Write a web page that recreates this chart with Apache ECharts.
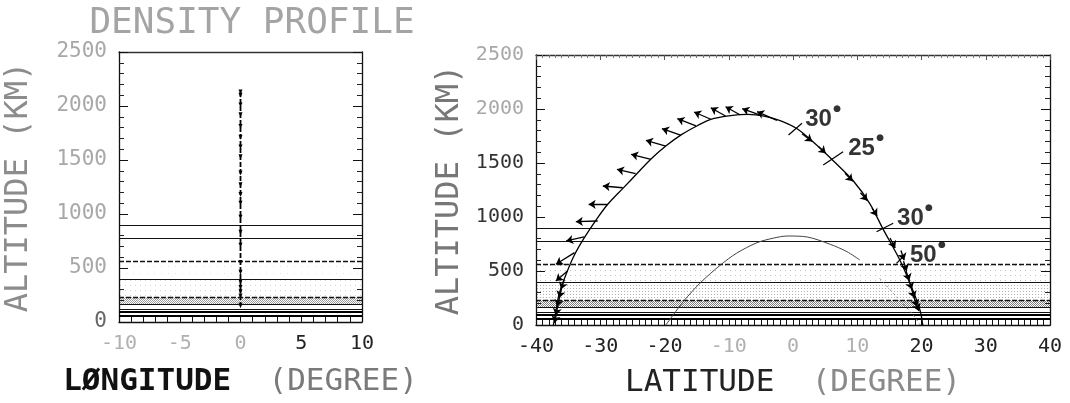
<!DOCTYPE html>
<html>
<head>
<meta charset="utf-8">
<script src="https://cdn.jsdelivr.net/npm/echarts@6/dist/echarts.min.js"></script>
<style>
  html, body { margin: 0; padding: 0; background: #fff; }
  #chart { width: 1070px; height: 403px; }
</style>
</head>
<body>
<div id="chart"></div>
<script>
// ---- data ----------------------------------------------------------------
// layer boundaries (km), drawn across both panels
const layerAlt = [898, 778, 565, 394, 232, 160, 118, 92, 62];
// stippled bands (km): lower and upper bounds
const bandLow = [394, 232, 160];
const bandHigh = [565, 394, 232];

// left panel: density profile track at longitude 0
const profileLon = 0;
const profileAlt = [2130, 2100, 2010, 1920, 1810, 1710, 1620, 1530, 1380, 1270, 1180,
                    1100, 970, 830, 710, 550, 460, 370, 320, 280, 240, 150];

// right panel: main pass (latitude, altitude km)
const orbitLat = [-37.3, -36.9, -36.4, -35.3, -34.1, -32.5, -30.5, -28.8, -26.4, -24.2, -22.1,
                  -19.8, -17.3, -14.9, -12.8, -10.0, -7.0, -4.5, -2.0, 0.7, 3.8, 6.3, 9.4,
                  12.0, 14.0, 16.7, 18.7, 19.8, 20.2];
const orbitAlt = [0, 130, 287, 472, 639, 806, 985, 1120, 1270, 1407, 1537,
                  1657, 1765, 1845, 1905, 1937, 1950, 1935, 1893, 1815, 1660, 1519, 1333,
                  1120, 890, 593, 315, 130, 0];

// right panel: lower pass
const innerLat = [-19.8, -17.0, -14.4, -11.3, -8.8, -5.6, -3.0, -0.9, 2.2, 5.8, 8.4, 10.4];
const innerAlt = [0, 222, 392, 555, 664, 762, 805, 824, 815, 747, 679, 602];
const innerTailLat = [13.5, 16.1, 18.7, 19.8];
const innerTailAlt = [432, 262, 93, 0];

// vectors along the main pass: tail and head (latitude, altitude km)
const vecTail = [
  [-35.1, 500], [-34.0, 670], [-32.5, 815], [-30.4, 963], [-28.9, 1117], [-26.5, 1271],
  [-24.5, 1401], [-22.1, 1534], [-19.8, 1657], [-17.5, 1759], [-15.1, 1843], [-12.8, 1905],
  [-10.5, 1935], [-8.2, 1944], [-5.0, 1940], [-2.5, 1895],
  [1.4, 1770], [4.0, 1650], [8.1, 1405], [10.5, 1225], [12.3, 1083], [15.1, 806],
  [16.8, 690], [17.2, 590], [17.6, 500], [18.0, 420], [18.4, 340], [18.8, 260], [19.1, 200],
  [-35.6, 420], [-36.0, 340], [-36.3, 260], [-36.6, 180], [-36.8, 110]
];
const vecHead = [
  [-36.9, 407], [-36.9, 562], [-35.3, 778], [-33.8, 957], [-31.8, 1117], [-29.6, 1287],
  [-27.4, 1441], [-25.2, 1580], [-22.9, 1710], [-20.4, 1818], [-18.0, 1910], [-15.4, 1972],
  [-12.8, 2012], [-10.5, 2021], [-7.9, 2003], [-5.6, 1975],
  [3.0, 1700], [5.1, 1590], [9.3, 1330], [11.6, 1150], [13.1, 1009], [15.9, 713],
  [17.3, 600], [17.7, 500], [18.1, 410], [18.5, 330], [18.9, 250], [19.3, 170], [19.6, 130],
  [-36.1, 330], [-36.4, 250], [-36.7, 170], [-36.9, 90], [-37.1, 20]
];

// angle marks crossing the main pass
const crossFrom = [[-0.7, 1759], [4.7, 1481], [13.0, 864], [16.1, 571]];
const crossTo = [[1.4, 1868], [7.8, 1605], [15.6, 942], [17.4, 648]];
const angleLat = [1.9, 8.6, 16.2, 18.2];
const angleAlt = [1907, 1639, 991, 648];
const angleVal = [30, 25, 30, 50];

// ---- styles ----------------------------------------------------------------
const MONO = "'DejaVu Sans Mono', 'Liberation Mono', monospace";
const NARROW = "'Liberation Sans Narrow', 'Liberation Sans', sans-serif";

function dotPattern(step, alpha, checker) {
  const c = document.createElement('canvas');
  c.width = c.height = step;
  const g = c.getContext('2d');
  g.fillStyle = 'rgba(0,0,0,' + alpha + ')';
  g.fillRect(0, 0, 1, 1);
  if (checker) g.fillRect(1, 1, 1, 1);
  return { image: c, repeat: 'repeat' };
}
const bandFillRight = [dotPattern(5, 0.25), dotPattern(3, 0.3), dotPattern(2, 0.5, true)];
const bandFillLeft = [dotPattern(7, 0.10), dotPattern(5, 0.16), dotPattern(2, 0.38, true)];

function layerStyle(i) {
  if (i === 7 || i === 8) return { color: '#000', width: 2, opacity: 1 };
  if (i === 2 || i === 4) return { color: '#111', width: 1.3, type: [5, 2], opacity: 1 };
  return { color: '#111', width: 1.2, opacity: 1 };
}

function labelRich(dark, faint, size) {
  return {
    d: { color: dark, fontFamily: MONO, fontSize: size },
    f: { color: faint, fontFamily: MONO, fontSize: size }
  };
}

const axisLineStyle = { onZero: false, lineStyle: { color: '#111', width: 1.3 } };

function yAxisCfg(grid, pos, showLabels, faintSet, labelColor, labelSize, name, gap, nameColor) {
  return {
    type: 'value', gridIndex: grid, position: pos, min: 0, max: 2500, interval: 500,
    axisLine: Object.assign({ show: true }, axisLineStyle),
    axisTick: { show: true, inside: true, length: 9, lineStyle: { color: '#111' } },
    minorTick: { show: true, splitNumber: 5, length: 5, lineStyle: { color: '#222' } },
    splitLine: { show: false },
    axisLabel: {
      show: showLabels, margin: 12,
      formatter: v => (faintSet.indexOf(v) >= 0 ? '{f|' + v + '}' : '{d|' + v + '}'),
      rich: labelRich(labelColor, '#a8a8a8', labelSize)
    },
    name: name, nameLocation: 'middle', nameRotate: 90, nameGap: gap,
    nameTextStyle: { fontFamily: MONO, fontSize: 32, color: nameColor }
  };
}

function xAxisCfg(grid, min, max, interval, faintSet, name, gap, rich) {
  return {
    type: 'value', gridIndex: grid, position: 'bottom', min: min, max: max, interval: interval,
    axisLine: Object.assign({ show: true }, axisLineStyle),
    axisTick: { show: true, inside: true, length: 7, lineStyle: { color: '#111' } },
    minorTick: { show: true, splitNumber: interval, length: 7, lineStyle: { color: '#111' } },
    splitLine: { show: false },
    axisLabel: {
      margin: 12, showMinLabel: true, showMaxLabel: true,
      formatter: v => (faintSet.indexOf(v) >= 0 ? '{f|' + v + '}' : '{d|' + v + '}'),
      rich: labelRich('#222', '#b0b0b0', 20)
    },
    name: name, nameLocation: 'middle', nameGap: gap,
    nameTextStyle: { rich: rich }
  };
}

function topAxisCfg(grid, min, max, interval, ticks) {
  return {
    type: 'value', gridIndex: grid, position: 'top', min: min, max: max, interval: interval,
    axisLine: { show: true, onZero: false, lineStyle: { color: '#333', width: 1.3 } },
    axisTick: { show: ticks, inside: true, length: 5, lineStyle: { color: '#555' } },
    minorTick: { show: ticks, splitNumber: interval, length: 3, lineStyle: { color: '#777' } },
    splitLine: { show: false },
    axisLabel: { show: false }
  };
}

function layerLines(xi, yi, xmin, xmax) {
  return {
    type: 'lines', coordinateSystem: 'cartesian2d', xAxisIndex: xi, yAxisIndex: yi,
    silent: true, z: 2,
    data: layerAlt.map((a, i) => ({ coords: [[xmin, a], [xmax, a]], lineStyle: layerStyle(i) }))
  };
}

function bandSeries(xi, yi, fills) {
  return {
    type: 'line', xAxisIndex: xi, yAxisIndex: yi, data: [], silent: true, z: 1,
    markArea: {
      silent: true,
      data: bandLow.map((lo, i) => [
        { yAxis: lo, itemStyle: { color: fills[i] } },
        { yAxis: bandHigh[i] }
      ])
    }
  };
}

const titleRich = (boldFirst, firstColor, restColor) => ({
  b: { fontFamily: MONO, fontSize: 31, fontWeight: boldFirst ? 'bold' : 'normal', color: firstColor },
  l: { fontFamily: MONO, fontSize: 31, color: restColor }
});

const angleData = angleLat.map((x, i) => [x, angleAlt[i], angleVal[i]]);

const chart = echarts.init(document.getElementById('chart'), null, { renderer: 'canvas' });

chart.setOption({
  backgroundColor: '#ffffff',
  animation: false,
  title: {
    text: 'DENSITY PROFILE', left: 247, top: 1, textAlign: 'center',
    textStyle: { fontFamily: MONO, fontSize: 36, fontWeight: 'normal', color: '#a4a4a4' }
  },
  grid: [
    { left: 119, top: 52, width: 243, height: 270 },
    { left: 536, top: 55, width: 514, height: 270 }
  ],
  xAxis: [
    xAxisCfg(0, -10, 10, 5, [-10, -5, 0], '{b|LØNGITUDE}{l|  (DEGREE)}', 44,
      titleRich(true, '#111', '#7a7a7a')),
    xAxisCfg(1, -40, 40, 10, [-10, 0, 10], '{b|LATITUDE}{l|  (DEGREE)}', 42,
      titleRich(false, '#222', '#8a8a8a')),
    topAxisCfg(0, -10, 10, 5, false),
    topAxisCfg(1, -40, 40, 10, true)
  ],
  yAxis: [
    yAxisCfg(0, 'left', true, [500, 1000, 1500, 2000, 2500], '#666', 21, 'ALTITUDE (KM)', 84, '#8c8c8c'),
    yAxisCfg(1, 'left', true, [2000, 2500], '#333', 20, 'ALTITUDE (KM)', 70, '#777'),
    yAxisCfg(0, 'right', false, [], '#333', 20, '', 0, '#000'),
    yAxisCfg(1, 'right', false, [], '#333', 20, '', 0, '#000')
  ],
  series: [
    // stippled bands
    bandSeries(0, 0, bandFillLeft),
    bandSeries(1, 1, bandFillRight),
    // layer boundaries
    layerLines(0, 0, -10, 10),
    layerLines(1, 1, -40, 40),
    // density profile track
    {
      type: 'line', xAxisIndex: 0, yAxisIndex: 0, z: 4,
      data: profileAlt.map(a => [profileLon, a]),
      symbol: 'triangle', symbolSize: [4, 5], symbolRotate: 180,
      itemStyle: { color: '#000' },
      lineStyle: { color: '#000', width: 1.8, type: [5, 2] }
    },
    // lower pass
    {
      type: 'line', xAxisIndex: 1, yAxisIndex: 1, z: 3, smooth: 0.3, showSymbol: false,
      data: innerLat.map((x, i) => [x, innerAlt[i]]),
      lineStyle: { color: '#444', width: 1 }
    },
    {
      type: 'line', xAxisIndex: 1, yAxisIndex: 1, z: 3, smooth: 0.3, showSymbol: false,
      data: innerTailLat.map((x, i) => [x, innerTailAlt[i]]),
      lineStyle: { color: '#777', width: 1, type: [2, 3] }
    },
    // main pass
    {
      type: 'line', xAxisIndex: 1, yAxisIndex: 1, z: 5, smooth: 0.3, showSymbol: false,
      data: orbitLat.map((x, i) => [x, orbitAlt[i]]),
      lineStyle: { color: '#000', width: 1.3 }
    },
    // vectors
    {
      type: 'lines', coordinateSystem: 'cartesian2d', xAxisIndex: 1, yAxisIndex: 1, z: 6,
      symbol: ['none', 'arrow'], symbolSize: [0, 7],
      lineStyle: { color: '#000', width: 1.3, opacity: 1 },
      data: vecTail.map((t, i) => ({ coords: [t, vecHead[i]] }))
    },
    // angle marks
    {
      type: 'lines', coordinateSystem: 'cartesian2d', xAxisIndex: 1, yAxisIndex: 1, z: 6,
      lineStyle: { color: '#000', width: 1.2, opacity: 1 },
      data: crossFrom.map((f, i) => ({ coords: [f, crossTo[i]] }))
    },
    {
      type: 'scatter', xAxisIndex: 1, yAxisIndex: 1, z: 7, symbolSize: 0,
      data: angleData,
      label: {
        show: true, position: 'right', distance: 0,
        formatter: p => String(p.value[2]),
        fontFamily: NARROW, fontSize: 24, fontWeight: 'bold', color: '#000'
      }
    },
    // degree marks beside the angle values
    {
      type: 'scatter', xAxisIndex: 1, yAxisIndex: 1, z: 7, symbolSize: 0,
      data: angleData,
      label: {
        show: true, position: 'right', distance: 0, offset: [28, -10],
        formatter: '●', fontFamily: "'DejaVu Sans', sans-serif", fontSize: 9, color: '#000'
      }
    }
  ]
});
</script>
</body>
</html>
